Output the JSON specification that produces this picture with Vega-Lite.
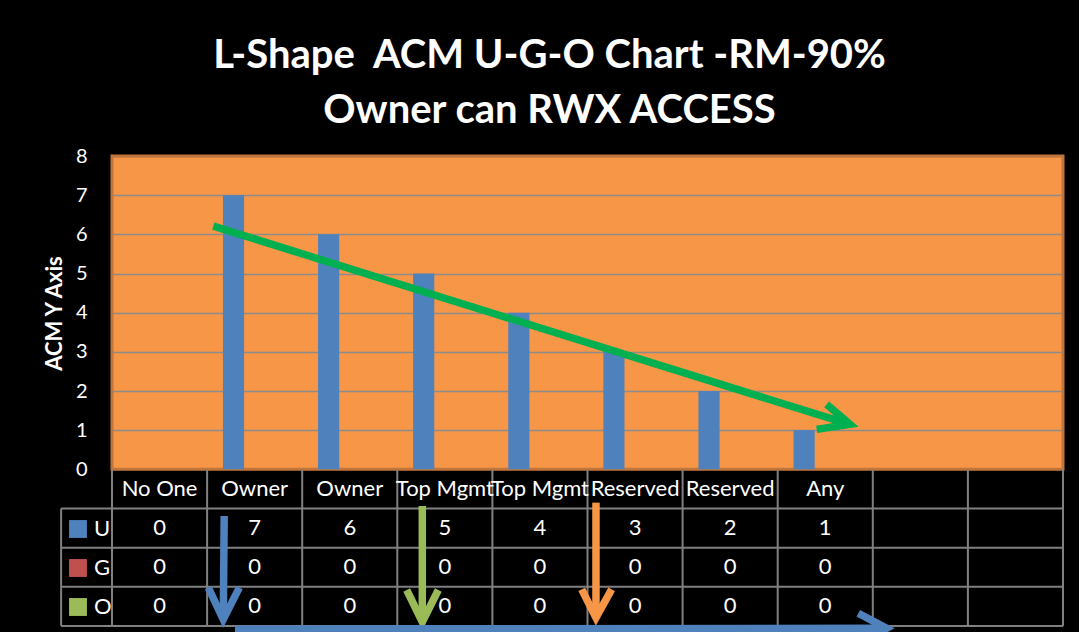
{
  "$schema": "https://vega.github.io/schema/vega-lite/v6.json",
  "width": 951,
  "height": 470,
  "autosize": {"type": "none"},
  "padding": {"left": 112, "top": 156, "right": 16, "bottom": 6},
  "background": "#000000",
  "config": {"font": "Lato", "view": {"fill": "#f79646", "stroke": null}},
  "title": {
    "text": ["L-Shape\u00a0 ACM U-G-O Chart -RM-90%", "Owner can RWX ACCESS"],
    "color": "#ffffff", "font": "Lato", "fontSize": 40, "fontWeight": "bold",
    "lineHeight": 55, "anchor": "middle", "dx": -38, "offset": 15
  },
  "datasets": {
    "cols": [
      {"col": "c1", "label": "No One"}, {"col": "c2", "label": "Owner"},
      {"col": "c3", "label": "Owner"}, {"col": "c4", "label": "Top Mgmt"},
      {"col": "c5", "label": "Top Mgmt"}, {"col": "c6", "label": "Reserved"},
      {"col": "c7", "label": "Reserved"}, {"col": "c8", "label": "Any"},
      {"col": "c9", "label": ""}, {"col": "c10", "label": ""}
    ],
    "cells": [
      {"col": "c1", "series": "U", "value": 0}, {"col": "c1", "series": "G", "value": 0}, {"col": "c1", "series": "O", "value": 0},
      {"col": "c2", "series": "U", "value": 7}, {"col": "c2", "series": "G", "value": 0}, {"col": "c2", "series": "O", "value": 0},
      {"col": "c3", "series": "U", "value": 6}, {"col": "c3", "series": "G", "value": 0}, {"col": "c3", "series": "O", "value": 0},
      {"col": "c4", "series": "U", "value": 5}, {"col": "c4", "series": "G", "value": 0}, {"col": "c4", "series": "O", "value": 0},
      {"col": "c5", "series": "U", "value": 4}, {"col": "c5", "series": "G", "value": 0}, {"col": "c5", "series": "O", "value": 0},
      {"col": "c6", "series": "U", "value": 3}, {"col": "c6", "series": "G", "value": 0}, {"col": "c6", "series": "O", "value": 0},
      {"col": "c7", "series": "U", "value": 2}, {"col": "c7", "series": "G", "value": 0}, {"col": "c7", "series": "O", "value": 0},
      {"col": "c8", "series": "U", "value": 1}, {"col": "c8", "series": "G", "value": 0}, {"col": "c8", "series": "O", "value": 0}
    ],
    "arrows": [
      {"arrow": "trend", "seg": "trend-shaft", "ord": 1, "ax": 1.065, "ay": 6.21},
      {"arrow": "trend", "seg": "trend-shaft", "ord": 2, "ax": 7.74, "ay": 1.16},
      {"arrow": "trend", "seg": "trend-head", "ord": 1, "ax": 7.515, "ay": 1.66},
      {"arrow": "trend", "seg": "trend-head", "ord": 2, "ax": 7.76, "ay": 1.15},
      {"arrow": "trend", "seg": "trend-head", "ord": 3, "ax": 7.41, "ay": 1.02},
      {"arrow": "down1", "seg": "down1-shaft", "ord": 1, "ax": 1.18, "ay": -1.19},
      {"arrow": "down1", "seg": "down1-shaft", "ord": 2, "ax": 1.17, "ay": -3.8},
      {"arrow": "down1", "seg": "down1-head", "ord": 1, "ax": 1.013, "ay": -3.02},
      {"arrow": "down1", "seg": "down1-head", "ord": 2, "ax": 1.17, "ay": -3.83},
      {"arrow": "down1", "seg": "down1-head", "ord": 3, "ax": 1.339, "ay": -3.02},
      {"arrow": "down2", "seg": "down2-shaft", "ord": 1, "ax": 3.263, "ay": -0.937},
      {"arrow": "down2", "seg": "down2-shaft", "ord": 2, "ax": 3.263, "ay": -3.87},
      {"arrow": "down2", "seg": "down2-head", "ord": 1, "ax": 3.099, "ay": -3.081},
      {"arrow": "down2", "seg": "down2-head", "ord": 2, "ax": 3.263, "ay": -3.898},
      {"arrow": "down2", "seg": "down2-head", "ord": 3, "ax": 3.431, "ay": -3.081},
      {"arrow": "down3", "seg": "down3-shaft", "ord": 1, "ax": 5.089, "ay": -0.85},
      {"arrow": "down3", "seg": "down3-shaft", "ord": 2, "ax": 5.089, "ay": -3.76},
      {"arrow": "down3", "seg": "down3-head", "ord": 1, "ax": 4.939, "ay": -3.064},
      {"arrow": "down3", "seg": "down3-head", "ord": 2, "ax": 5.089, "ay": -3.786},
      {"arrow": "down3", "seg": "down3-head", "ord": 3, "ax": 5.254, "ay": -3.064},
      {"arrow": "bottom", "seg": "bottom-shaft", "ord": 1, "ax": 1.293, "ay": -4.08},
      {"arrow": "bottom", "seg": "bottom-shaft", "ord": 2, "ax": 8.12, "ay": -4.06},
      {"arrow": "bottom", "seg": "bottom-head", "ord": 1, "ax": 7.848, "ay": -3.676},
      {"arrow": "bottom", "seg": "bottom-head", "ord": 2, "ax": 8.146, "ay": -4.06},
      {"arrow": "bottom", "seg": "bottom-head", "ord": 3, "ax": 7.848, "ay": -4.44}
    ]
  },
  "layer": [
    {
      "layer": [
        {
          "data": {"values": [{}]},
          "mark": {"type": "rect", "color": "#000000"},
          "encoding": {
            "y": {"datum": 0, "type": "quantitative", "title": "ACM Y Axis",
              "scale": {"domain": [-4, 8], "nice": false, "zero": false},
              "axis": {
                "title": "ACM Y Axis", "values": [0, 1, 2, 3, 4, 5, 6, 7, 8],
                "grid": true, "gridColor": "#8c8c8c", "gridWidth": 1.5,
                "domain": false, "ticks": false,
                "labelColor": "#ffffff", "labelFontSize": 20, "labelFont": "Lato", "labelPadding": 25,
                "titleColor": "#ffffff", "titleFontSize": 22, "titleFont": "Lato", "titleFontWeight": "bold",
                "titleX": -58, "titleY": 157, "titleAngle": -90, "titleAlign": "center", "titleBaseline": "middle"
              }
            },
            "y2": {"datum": -4}
          }
        },
        {
          "data": {"values": [{}]},
          "mark": {"type": "rect", "fill": "#f79646", "fillOpacity": 0, "stroke": "#c0763b", "strokeWidth": 3},
          "encoding": {
            "y": {"datum": 8, "type": "quantitative", "title": "ACM Y Axis"},
            "y2": {"datum": 0}
          }
        },
        {
          "data": {"name": "cols"},
          "mark": {"type": "rule", "color": "#808080", "strokeWidth": 2},
          "encoding": {
            "x": {"field": "col", "type": "nominal", "bandPosition": -0.25,
              "scale": {"domain": ["c1","c2","c3","c4","c5","c6","c7","c8","c9","c10"], "paddingInner": 0.3333, "paddingOuter": 0.1667},
              "axis": null},
            "y": {"datum": 0, "type": "quantitative", "title": "ACM Y Axis"},
            "y2": {"datum": -4}
          }
        },
        {
          "data": {"name": "cols"},
          "transform": [{"filter": "datum.col === 'c10'"}],
          "mark": {"type": "rule", "color": "#808080", "strokeWidth": 2},
          "encoding": {
            "x": {"field": "col", "type": "nominal", "bandPosition": 1.25, "axis": null},
            "y": {"datum": 0, "type": "quantitative", "title": "ACM Y Axis"},
            "y2": {"datum": -4}
          }
        },
        {
          "data": {"name": "cols"},
          "mark": {"type": "text", "color": "#ffffff", "fontSize": 22, "font": "Lato", "baseline": "middle"},
          "encoding": {
            "x": {"field": "col", "type": "nominal", "axis": null},
            "y": {"datum": -0.5, "type": "quantitative", "title": "ACM Y Axis"},
            "text": {"field": "label"}
          }
        },
        {
          "data": {"name": "cells"},
          "transform": [{"filter": "datum.series === 'U'"}],
          "mark": {"type": "text", "color": "#ffffff", "fontSize": 22, "font": "Lato", "baseline": "middle"},
          "encoding": {
            "x": {"field": "col", "type": "nominal", "axis": null},
            "y": {"datum": -1.5, "type": "quantitative", "title": "ACM Y Axis"},
            "text": {"field": "value", "type": "quantitative"}
          }
        },
        {
          "data": {"name": "cells"},
          "transform": [{"filter": "datum.series === 'G'"}],
          "mark": {"type": "text", "color": "#ffffff", "fontSize": 22, "font": "Lato", "baseline": "middle"},
          "encoding": {
            "x": {"field": "col", "type": "nominal", "axis": null},
            "y": {"datum": -2.5, "type": "quantitative", "title": "ACM Y Axis"},
            "text": {"field": "value", "type": "quantitative"}
          }
        },
        {
          "data": {"name": "cells"},
          "transform": [{"filter": "datum.series === 'O'"}],
          "mark": {"type": "text", "color": "#ffffff", "fontSize": 22, "font": "Lato", "baseline": "middle"},
          "encoding": {
            "x": {"field": "col", "type": "nominal", "axis": null},
            "y": {"datum": -3.5, "type": "quantitative", "title": "ACM Y Axis"},
            "text": {"field": "value", "type": "quantitative"}
          }
        },
        {
          "data": {"name": "cells"},
          "mark": {"type": "bar"},
          "encoding": {
            "x": {"field": "col", "type": "nominal", "axis": null},
            "xOffset": {"field": "series", "type": "nominal", "scale": {"domain": ["U", "G", "O"]}},
            "y": {"field": "value", "type": "quantitative", "title": "ACM Y Axis"},
            "color": {
              "field": "series", "type": "nominal",
              "scale": {"domain": ["U", "G", "O"], "range": ["#4f81bd", "#c0504d", "#9bbb59"]},
              "legend": {
                "orient": "none", "legendX": -45, "legendY": 362, "title": null,
                "symbolType": "square", "symbolSize": 320, "symbolStrokeWidth": 0, "symbolOpacity": 1,
                "labelColor": "#ffffff", "labelFontSize": 22, "labelFont": "Lato", "labelOffset": 5,
                "rowPadding": 17, "padding": 0
              }
            }
          }
        }
      ]
    },
    {
      "layer": [
        {
          "data": {"values": [{}]},
          "mark": {"type": "rule", "color": "#808080", "strokeWidth": 2},
          "encoding": {
            "x": {"datum": -0.535, "type": "quantitative", "scale": {"domain": [0, 10], "nice": false, "zero": false}, "axis": null},
            "x2": {"datum": 10},
            "y": {"datum": -1, "type": "quantitative", "title": "ACM Y Axis"}
          }
        },
        {
          "data": {"values": [{}]},
          "mark": {"type": "rule", "color": "#808080", "strokeWidth": 2},
          "encoding": {
            "x": {"datum": -0.535, "type": "quantitative", "axis": null},
            "x2": {"datum": 10},
            "y": {"datum": -2, "type": "quantitative", "title": "ACM Y Axis"}
          }
        },
        {
          "data": {"values": [{}]},
          "mark": {"type": "rule", "color": "#808080", "strokeWidth": 2},
          "encoding": {
            "x": {"datum": -0.535, "type": "quantitative", "axis": null},
            "x2": {"datum": 10},
            "y": {"datum": -3, "type": "quantitative", "title": "ACM Y Axis"}
          }
        },
        {
          "data": {"values": [{}]},
          "mark": {"type": "rule", "color": "#808080", "strokeWidth": 2},
          "encoding": {
            "x": {"datum": -0.535, "type": "quantitative", "axis": null},
            "x2": {"datum": 10},
            "y": {"datum": -4, "type": "quantitative", "title": "ACM Y Axis"}
          }
        },
        {
          "data": {"values": [{}]},
          "mark": {"type": "rule", "color": "#808080", "strokeWidth": 2},
          "encoding": {
            "x": {"datum": -0.535, "type": "quantitative", "axis": null},
            "y": {"datum": -1, "type": "quantitative", "title": "ACM Y Axis"},
            "y2": {"datum": -4}
          }
        },
        {
          "data": {"name": "arrows"},
          "mark": {"type": "line", "strokeWidth": 7.5, "strokeCap": "butt", "strokeJoin": "miter"},
          "encoding": {
            "x": {"field": "ax", "type": "quantitative", "axis": null},
            "y": {"field": "ay", "type": "quantitative", "title": "ACM Y Axis"},
            "detail": {"field": "seg"},
            "order": {"field": "ord"},
            "color": {
              "field": "arrow", "type": "nominal", "legend": null,
              "scale": {"domain": ["trend", "down1", "down2", "down3", "bottom"], "range": ["#00b050", "#4f81bd", "#9bbb59", "#f79646", "#4f81bd"]}
            }
          }
        }
      ]
    }
  ],
  "resolve": {"scale": {"x": "independent", "color": "independent"}}
}
